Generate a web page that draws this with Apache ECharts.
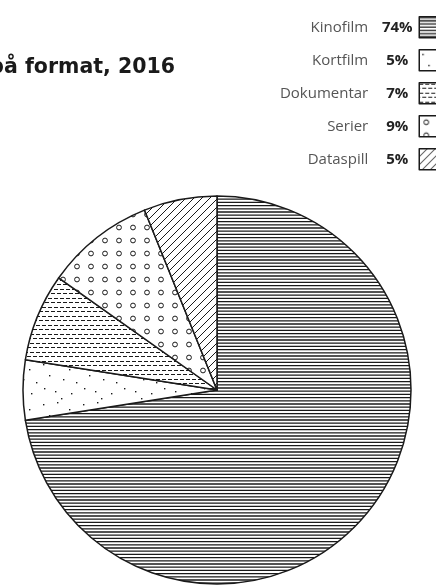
<!DOCTYPE html>
<html>
<head>
<meta charset="utf-8">
<script src="https://cdn.jsdelivr.net/npm/echarts@6/dist/echarts.min.js"></script>
<style>
  html, body { margin: 0; padding: 0; background: #fff; }
  #chart { width: 436px; height: 585px; }
</style>
</head>
<body>
<div id="chart"></div>
<script>
// data (slice sizes) and the printed legend shares
const categories = ['Kinofilm', 'Kortfilm', 'Dokumentar', 'Serier', 'Dataspill']
const sliceValues = [72.5, 5.0, 7.3, 9.1, 6.1]
const shareLabels = ['74%', '5%', '7%', '9%', '5%']
const titleText = 'Filmproduksjon fordelt på format, 2016'

const ink = '#1a1a1a'

function tile(w, h, draw) {
  const c = document.createElement('canvas')
  c.width = w
  c.height = h
  const ctx = c.getContext('2d')
  ctx.fillStyle = '#fff'
  ctx.fillRect(0, 0, w, h)
  ctx.fillStyle = ink
  ctx.strokeStyle = ink
  draw(ctx)
  return { image: c, repeat: 'repeat' }
}

// hatch fills, one per slice
const patterns = [
  // horizontal lines
  tile(4, 16, ctx => {
    ctx.lineWidth = 1.3
    ctx.beginPath()
    for (let k = 0; k < 5; k++) {
      ctx.moveTo(0, 0.8 + k * 3.2); ctx.lineTo(4, 0.8 + k * 3.2)
    }
    ctx.stroke()
  }),
  // sparse dots
  tile(40, 40, ctx => {
    const pts = [[3, 4], [17, 2], [29, 9], [9, 15], [23, 19], [36, 22], [4, 28], [15, 31], [31, 33], [21, 38]]
    pts.forEach(p => ctx.fillRect(p[0], p[1], 1.4, 1.4))
  }),
  // staggered dashes
  tile(12, 9, ctx => {
    ctx.fillRect(0, 1, 4, 1)
    ctx.fillRect(6, 1, 4, 1)
    ctx.fillRect(3, 5, 4, 1)
    ctx.fillRect(9, 5, 3, 1)
    ctx.fillRect(0, 5, 1, 1)
  }),
  // small circles
  tile(14, 13, ctx => {
    ctx.lineWidth = 1
    ctx.beginPath()
    ctx.arc(7, 6.5, 2.4, 0, Math.PI * 2)
    ctx.stroke()
  }),
  // diagonal lines
  tile(8, 8, ctx => {
    ctx.lineWidth = 1
    ctx.beginPath()
    ctx.moveTo(-1, 9); ctx.lineTo(9, -1)
    ctx.moveTo(-1, 1); ctx.lineTo(1, -1)
    ctx.moveTo(7, 9); ctx.lineTo(9, 7)
    ctx.stroke()
  })
]

const chart = echarts.init(document.getElementById('chart'))

chart.setOption({
  animation: false,
  textStyle: { fontFamily: 'Open Sans' },
  graphic: [{
    type: 'text',
    right: 436 - 175,
    top: 57,
    style: {
      text: titleText,
      fontFamily: 'DejaVu Sans',
      fontWeight: 'bold',
      fontSize: 20.5,
      fill: '#1a1a1a'
    }
  }],
  legend: {
    orient: 'vertical',
    align: 'right',
    right: -4,
    top: 16,
    padding: 0,
    itemWidth: 20,
    itemHeight: 21,
    itemGap: 10.5,
    icon: 'rect',
    selectedMode: false,
    itemStyle: { borderColor: ink, borderWidth: 1.5 },
    data: categories,
    formatter: name => '{n|' + name + '}{p|' + shareLabels[categories.indexOf(name)] + '}',
    textStyle: {
      rich: {
        n: { fontFamily: 'Open Sans', fontSize: 15, color: '#555', lineHeight: 20 },
        p: { fontFamily: 'Open Sans', fontSize: 15, fontWeight: 'bold', color: '#222', width: 34, align: 'left', padding: [0, 0, 0, 12], lineHeight: 20 }
      }
    }
  },
  series: [{
    type: 'pie',
    center: [217, 390],
    radius: 194,
    startAngle: 90,
    clockwise: true,
    label: { show: false },
    labelLine: { show: false },
    emphasis: { disabled: true },
    itemStyle: { borderColor: ink, borderWidth: 1.5 },
    data: categories.map((name, i) => ({
      name: name,
      value: sliceValues[i],
      itemStyle: { color: patterns[i] }
    }))
  }]
})
</script>
</body>
</html>
